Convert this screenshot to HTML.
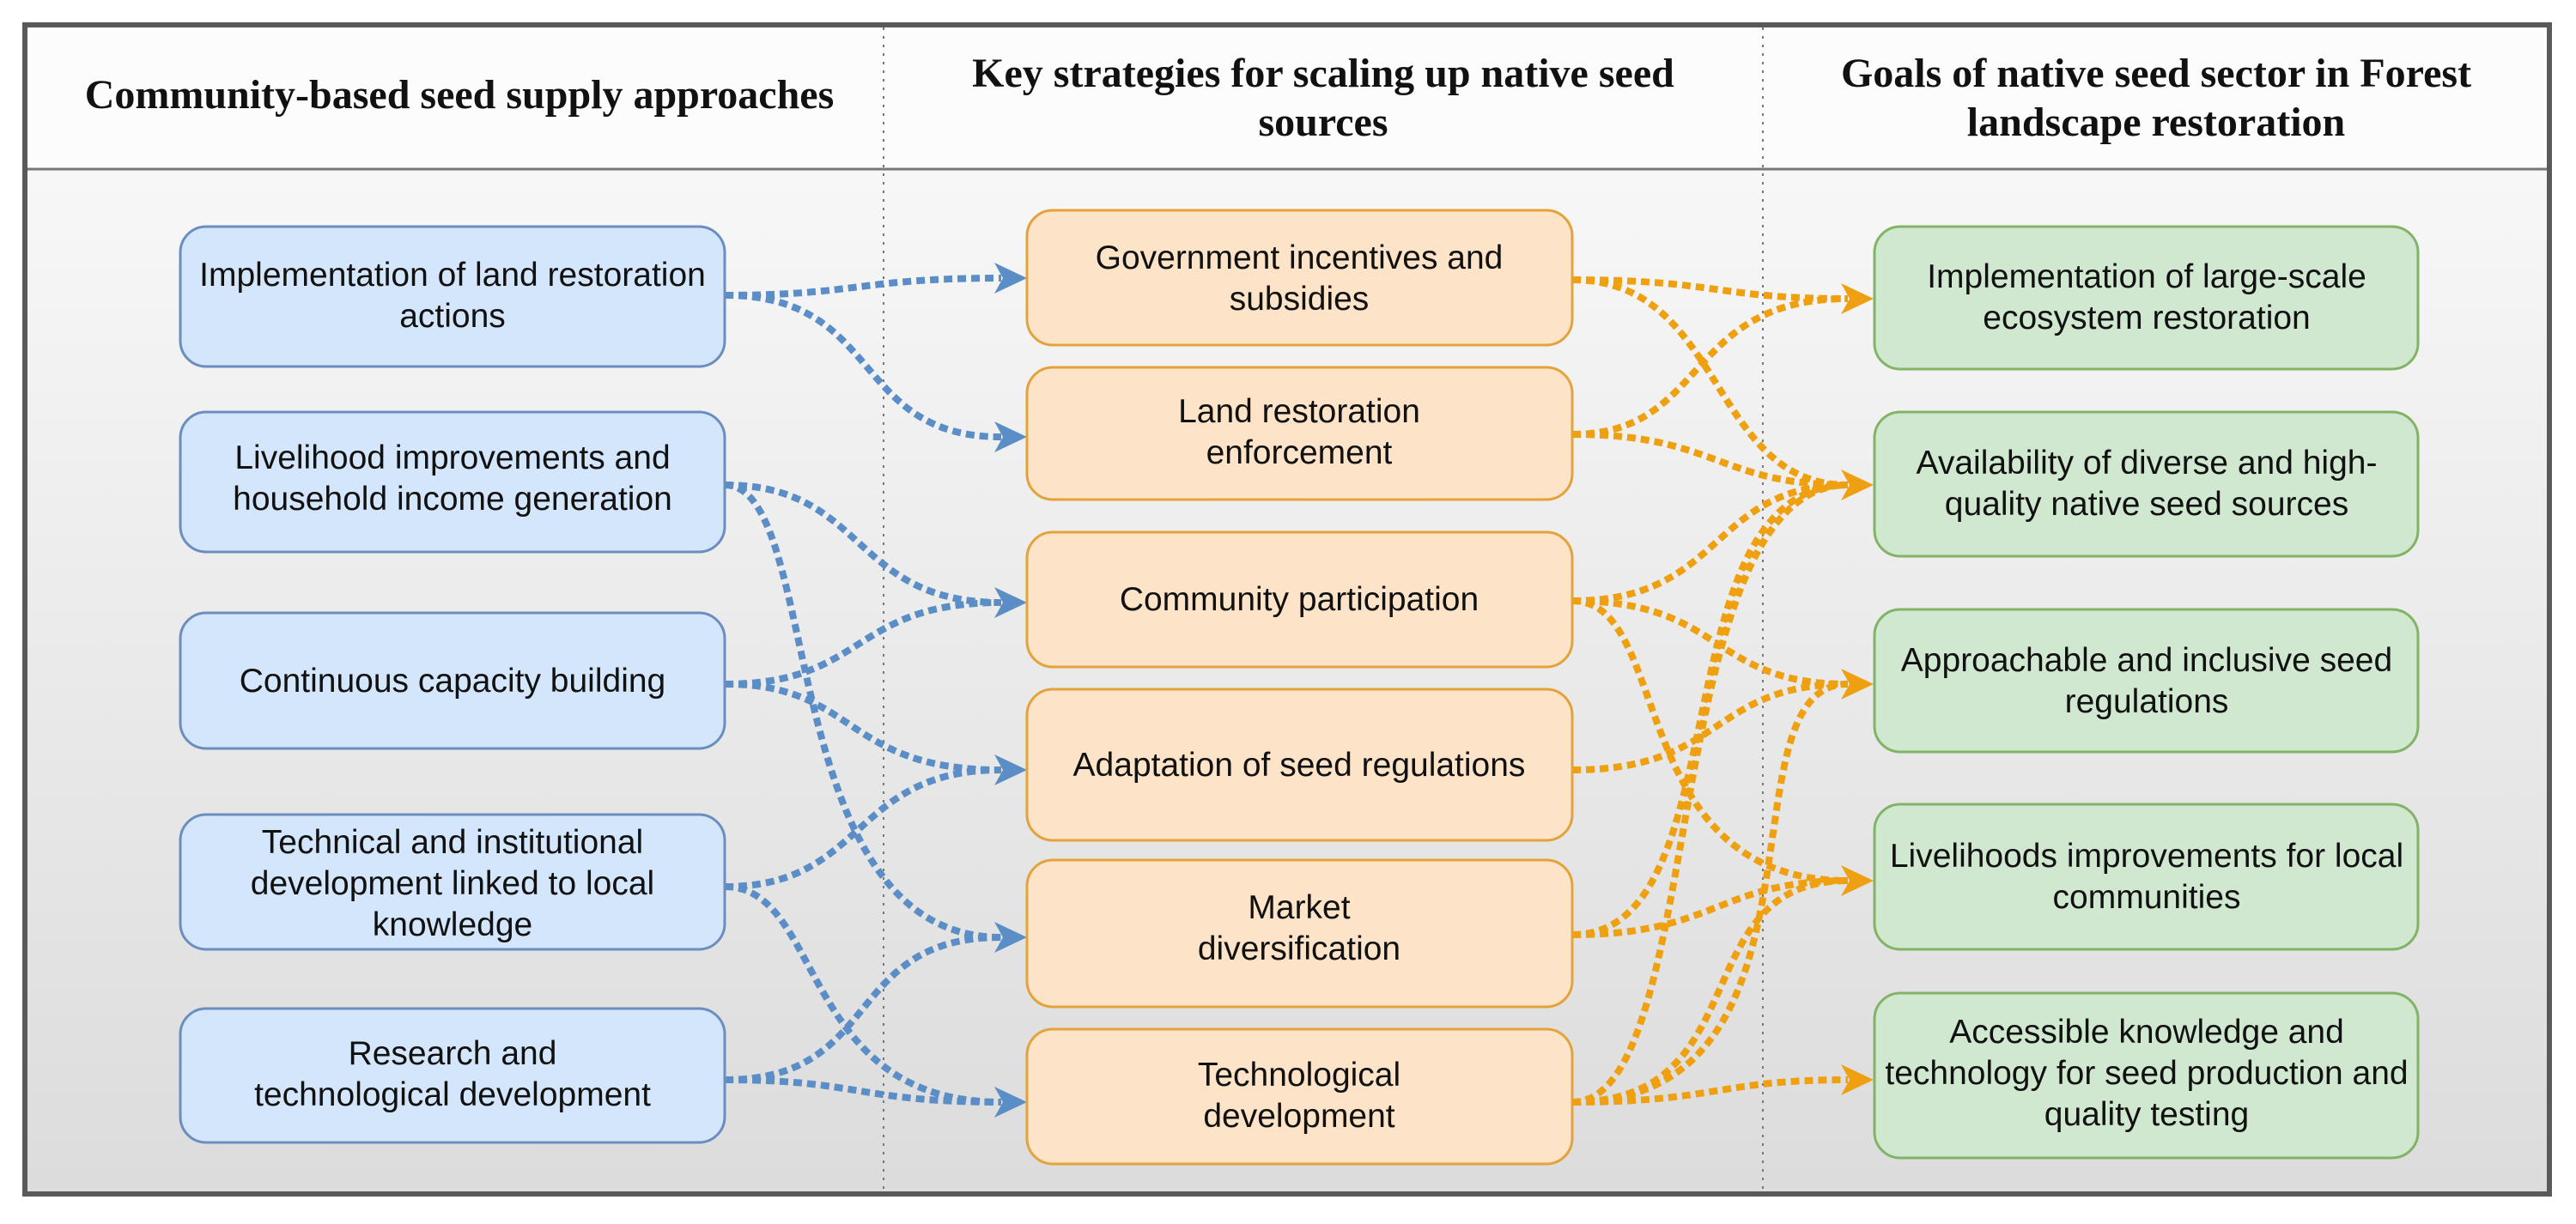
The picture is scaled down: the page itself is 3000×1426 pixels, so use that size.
<!DOCTYPE html>
<html><head><meta charset="utf-8"><style>
html,body{margin:0;padding:0;background:#fff;}
svg{display:block;}
.h{font-family:"Liberation Serif",serif;font-weight:bold;font-size:48px;fill:#111;text-anchor:middle;}
.t{font-family:"Liberation Sans",sans-serif;font-size:39px;fill:#111;text-anchor:middle;}
.b{fill:none;stroke:#5b8ec6;stroke-width:8;stroke-dasharray:10 6;}
.o{fill:none;stroke:#efa010;stroke-width:8;stroke-dasharray:10 6;}
</style></head><body>
<svg width="3000" height="1426" viewBox="0 0 3000 1426" xmlns="http://www.w3.org/2000/svg">
<defs>
<linearGradient id="bg" x1="0" y1="0" x2="0" y2="1">
<stop offset="0" stop-color="#fbfbfb"/><stop offset="1" stop-color="#dcdcdc"/>
</linearGradient>
</defs>
<rect x="29" y="29" width="2940" height="1362" fill="url(#bg)"/>
<rect x="29" y="29" width="2940" height="168" fill="#fcfcfc"/>
<line x1="29" y1="197" x2="2969" y2="197" stroke="#777" stroke-width="3"/>
<line x1="1029" y1="32" x2="1029" y2="1388" stroke="#777" stroke-width="2" stroke-dasharray="3 7"/>
<line x1="2053" y1="32" x2="2053" y2="1388" stroke="#777" stroke-width="2" stroke-dasharray="3 7"/>
<rect x="29" y="29" width="2940" height="1362" fill="none" stroke="#5a5a5a" stroke-width="6"/>

<text class="h" x="535" y="126">Community-based seed supply approaches</text>
<text class="h" x="1541" y="101">Key strategies for scaling up native seed</text>
<text class="h" x="1541" y="158">sources</text>
<text class="h" x="2511" y="101">Goals of native seed sector in Forest</text>
<text class="h" x="2511" y="158">landscape restoration</text>

<g class="b">
<path d="M844 344 C1000 344,1000 324,1166 324"/>
<path d="M844 344 C1030 344,990 509,1166 509"/>
<path d="M844 565 C1010 565,990 702,1166 702"/>
<path d="M844 565 C960 565,900 1092,1166 1092"/>
<path d="M844 797 C1010 797,990 702,1166 702"/>
<path d="M844 797 C1000 797,980 897,1166 897"/>
<path d="M844 1033 C1010 1033,990 897,1166 897"/>
<path d="M844 1033 C960 1033,930 1284,1166 1284"/>
<path d="M844 1258 C1030 1258,980 1092,1166 1092"/>
<path d="M844 1258 C1000 1258,1000 1284,1166 1284"/>
</g>
<g fill="#5b8ec6">
<polygon points="1196,324 1158,306 1168,324 1158,342"/>
<polygon points="1196,509 1158,491 1168,509 1158,527"/>
<polygon points="1196,702 1158,684 1168,702 1158,720"/>
<polygon points="1196,897 1158,879 1168,897 1158,915"/>
<polygon points="1196,1092 1158,1074 1168,1092 1158,1110"/>
<polygon points="1196,1284 1158,1266 1168,1284 1158,1302"/>
</g>

<g class="o">
<path d="M1831 326 C2000 326,2000 348,2152 348"/>
<path d="M1831 326 C2010 326,1990 565,2152 565"/>
<path d="M1831 506 C1990 506,1960 348,2152 348"/>
<path d="M1831 506 C2000 506,2000 565,2152 565"/>
<path d="M1831 700 C2010 700,1990 565,2152 565"/>
<path d="M1831 700 C2010 700,1990 797,2152 797"/>
<path d="M1831 700 C1950 700,1890 1026,2152 1026"/>
<path d="M1831 897 C2010 897,1990 797,2152 797"/>
<path d="M1831 1089 C2000 1089,2000 1026,2152 1026"/>
<path d="M1831 1089 C2030 1089,1930 565,2152 565"/>
<path d="M1831 1284 C1990 1284,1930 565,2152 565"/>
<path d="M1831 1284 C2150 1284,2000 797,2152 797"/>
<path d="M1831 1284 C2050 1284,1960 1026,2152 1026"/>
<path d="M1831 1284 C2000 1284,2000 1258,2152 1258"/>
</g>
<g fill="#efa010">
<polygon points="2182,348 2144,330 2154,348 2144,366"/>
<polygon points="2182,565 2144,547 2154,565 2144,583"/>
<polygon points="2182,797 2144,779 2154,797 2144,815"/>
<polygon points="2182,1026 2144,1008 2154,1026 2144,1044"/>
<polygon points="2182,1258 2144,1240 2154,1258 2144,1276"/>
</g>

<g fill="#d4e6fb" stroke="#6c8ebf" stroke-width="3">
<rect x="210" y="264" width="634" height="163" rx="30"/>
<rect x="210" y="480" width="634" height="163" rx="30"/>
<rect x="210" y="714" width="634" height="158" rx="30"/>
<rect x="210" y="949" width="634" height="157" rx="30"/>
<rect x="210" y="1175" width="634" height="156" rx="30"/>
</g>
<g fill="#fde4c9" stroke="#e3a33a" stroke-width="3">
<rect x="1196" y="245" width="635" height="157" rx="30"/>
<rect x="1196" y="428" width="635" height="154" rx="30"/>
<rect x="1196" y="620" width="635" height="157" rx="30"/>
<rect x="1196" y="803" width="635" height="176" rx="30"/>
<rect x="1196" y="1002" width="635" height="171" rx="30"/>
<rect x="1196" y="1199" width="635" height="157" rx="30"/>
</g>
<g fill="#d1e8d0" stroke="#82b366" stroke-width="3">
<rect x="2183" y="264" width="633" height="166" rx="30"/>
<rect x="2183" y="480" width="633" height="168" rx="30"/>
<rect x="2183" y="710" width="633" height="166" rx="30"/>
<rect x="2183" y="937" width="633" height="169" rx="30"/>
<rect x="2183" y="1157" width="633" height="192" rx="30"/>
</g>

<g class="t">
<text x="527" y="333">Implementation of land restoration</text>
<text x="527" y="381">actions</text>
<text x="527" y="546">Livelihood improvements and</text>
<text x="527" y="594">household income generation</text>
<text x="527" y="806">Continuous capacity building</text>
<text x="527" y="994">Technical and institutional</text>
<text x="527" y="1042">development linked to local</text>
<text x="527" y="1090">knowledge</text>
<text x="527" y="1240">Research and</text>
<text x="527" y="1288">technological development</text>

<text x="1513" y="313">Government incentives and</text>
<text x="1513" y="361">subsidies</text>
<text x="1513" y="492">Land restoration</text>
<text x="1513" y="540">enforcement</text>
<text x="1513" y="711">Community participation</text>
<text x="1513" y="904">Adaptation of seed regulations</text>
<text x="1513" y="1070">Market</text>
<text x="1513" y="1118">diversification</text>
<text x="1513" y="1265">Technological</text>
<text x="1513" y="1313">development</text>

<text x="2500" y="335">Implementation of large-scale</text>
<text x="2500" y="383">ecosystem restoration</text>
<text x="2500" y="552">Availability of diverse and high-</text>
<text x="2500" y="600">quality native seed sources</text>
<text x="2500" y="782">Approachable and inclusive seed</text>
<text x="2500" y="830">regulations</text>
<text x="2500" y="1010">Livelihoods improvements for local</text>
<text x="2500" y="1058">communities</text>
<text x="2500" y="1215">Accessible knowledge and</text>
<text x="2500" y="1263">technology for seed production and</text>
<text x="2500" y="1311">quality testing</text>
</g>
</svg>
</body></html>
